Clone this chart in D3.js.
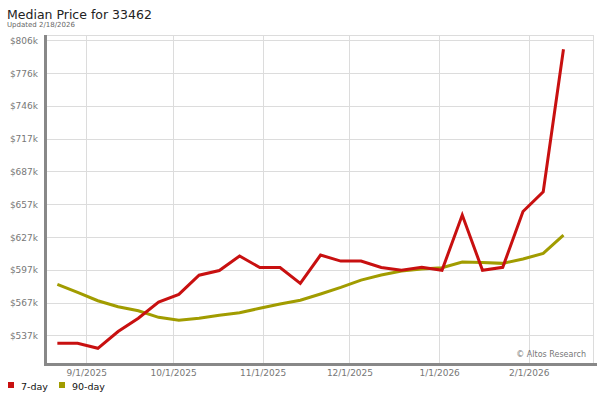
<!DOCTYPE html>
<html><head><meta charset="utf-8">
<script src="https://cdn.jsdelivr.net/npm/d3@7"></script>
<style>body{margin:0;background:#fff}svg{display:block;font-family:"DejaVu Sans",Verdana,sans-serif}</style>
</head><body>
<svg id="c" width="600" height="400"></svg>
<script>
// ---- data ----
const startDate = "2025-08-22"; // weekly points
const sevenDay = [530.1,530.1,525.6,540.9,552.9,567.7,574.7,592.1,596.4,609.6,599.1,599.1,584.7,610.5,605.0,605.0,599.1,596.6,599.3,596.6,646.9,596.6,599.3,650.1,668.1,797.8];
const ninetyDay = [583.8,576.5,568.9,563.4,559.8,553.8,551.1,552.9,555.6,558.0,562.0,565.9,569.3,575.0,581.1,587.7,592.3,595.9,597.8,598.9,604.1,603.7,602.9,606.9,612.0,628.7];
const yTickValues = [537.4,567.26,597.12,626.98,656.84,686.7,716.56,746.42,776.28,806.14];
const xTickLabels = ["9/1/2025","10/1/2025","11/1/2025","12/1/2025","1/1/2026","2/1/2026"];
const seriesNames = ["7-day","90-day"];
const seriesColors = ["#c81010","#a19c00"];

const parse = d3.timeParse("%Y-%m-%d");
const parseTick = d3.timeParse("%m/%d/%Y");
const t0 = parse(startDate);
const dates = sevenDay.map((_, i) => d3.timeDay.offset(t0, 7 * i));

const svg = d3.select("#c");
const L = 47, R = 593, T = 35, B = 363;

const x = d3.scaleTime()
  .domain([new Date(2025, 7, 18, 10), new Date(2026, 1, 23, 5)])
  .range([L, R]);
const y = d3.scaleLinear().domain([512.2, 810.8]).range([B, T]);

// grid
const g = svg.append("g");
g.selectAll("line.h").data(yTickValues).join("line")
  .attr("x1", L).attr("x2", R)
  .attr("y1", d => Math.round(y(d)) + 0.5).attr("y2", d => Math.round(y(d)) + 0.5)
  .attr("stroke", "#dcdcdc").attr("stroke-width", 1);
const xTicks = xTickLabels.map(s => parseTick(s));
g.selectAll("line.v").data(xTicks).join("line")
  .attr("x1", d => Math.round(x(d)) + 0.5).attr("x2", d => Math.round(x(d)) + 0.5)
  .attr("y1", T).attr("y2", B)
  .attr("stroke", "#dcdcdc").attr("stroke-width", 1);
// top & right border
g.append("line").attr("x1", L).attr("x2", R).attr("y1", T + 0.5).attr("y2", T + 0.5).attr("stroke", "#dcdcdc");
g.append("line").attr("x1", R + 0.5).attr("x2", R + 0.5).attr("y1", T).attr("y2", B).attr("stroke", "#dcdcdc");

// axes labels via d3 axes
const yAxis = d3.axisLeft(y).tickValues(yTickValues).tickSize(0).tickPadding(0)
  .tickFormat(d => "$" + Math.round(d) + "k");
const ya = svg.append("g").attr("transform", `translate(38,0)`).call(yAxis);
ya.select(".domain").remove();
ya.selectAll("text").attr("fill", "#777").attr("font-size", 9).attr("font-family", "DejaVu Sans, Verdana, sans-serif").attr("dy", "0.35em");

const xAxis = d3.axisBottom(x).tickValues(xTicks).tickSize(0).tickPadding(0)
  .tickFormat((d, i) => xTickLabels[i]);
const xa = svg.append("g").attr("transform", `translate(0,369)`).call(xAxis);
xa.select(".domain").remove();
xa.selectAll("text").attr("fill", "#777").attr("font-size", 9).attr("font-family", "DejaVu Sans, Verdana, sans-serif").attr("dy", "0.8em");

// axis lines
svg.append("line").attr("x1", 45.5).attr("x2", 45.5).attr("y1", T).attr("y2", 366).attr("stroke", "#888").attr("stroke-width", 3);
svg.append("line").attr("x1", 44).attr("x2", 597).attr("y1", 364.5).attr("y2", 364.5).attr("stroke", "#888").attr("stroke-width", 3);

// lines
const line = d3.line().x((d, i) => x(dates[i])).y(d => y(d));
[ninetyDay, sevenDay].forEach((s, k) => {
  svg.append("path").datum(s).attr("d", line)
    .attr("fill", "none").attr("stroke", k === 0 ? seriesColors[1] : seriesColors[0])
    .attr("stroke-width", 3).attr("stroke-linejoin", "miter").attr("stroke-linecap", "butt");
});

// watermark
svg.append("text").attr("x", 586).attr("y", 357).attr("text-anchor", "end")
  .attr("font-size", 8).attr("fill", "#777").text("© Altos Research");

// title
svg.append("text").attr("x", 7).attr("y", 18.5).attr("font-size", 12.5).attr("fill", "#222").text("Median Price for 33462");
svg.append("text").attr("x", 7).attr("y", 27).attr("font-size", 7).attr("fill", "#666").text("Updated 2/18/2026");

// legend
const legX = [8, 59];
seriesNames.forEach((n, i) => {
  svg.append("rect").attr("x", legX[i]).attr("y", 382).attr("width", 6).attr("height", 6).attr("fill", seriesColors[i]);
  svg.append("text").attr("x", legX[i] + 13).attr("y", 389.5).attr("font-size", 9.5).attr("fill", "#111").text(n);
});
</script>
</body></html>
